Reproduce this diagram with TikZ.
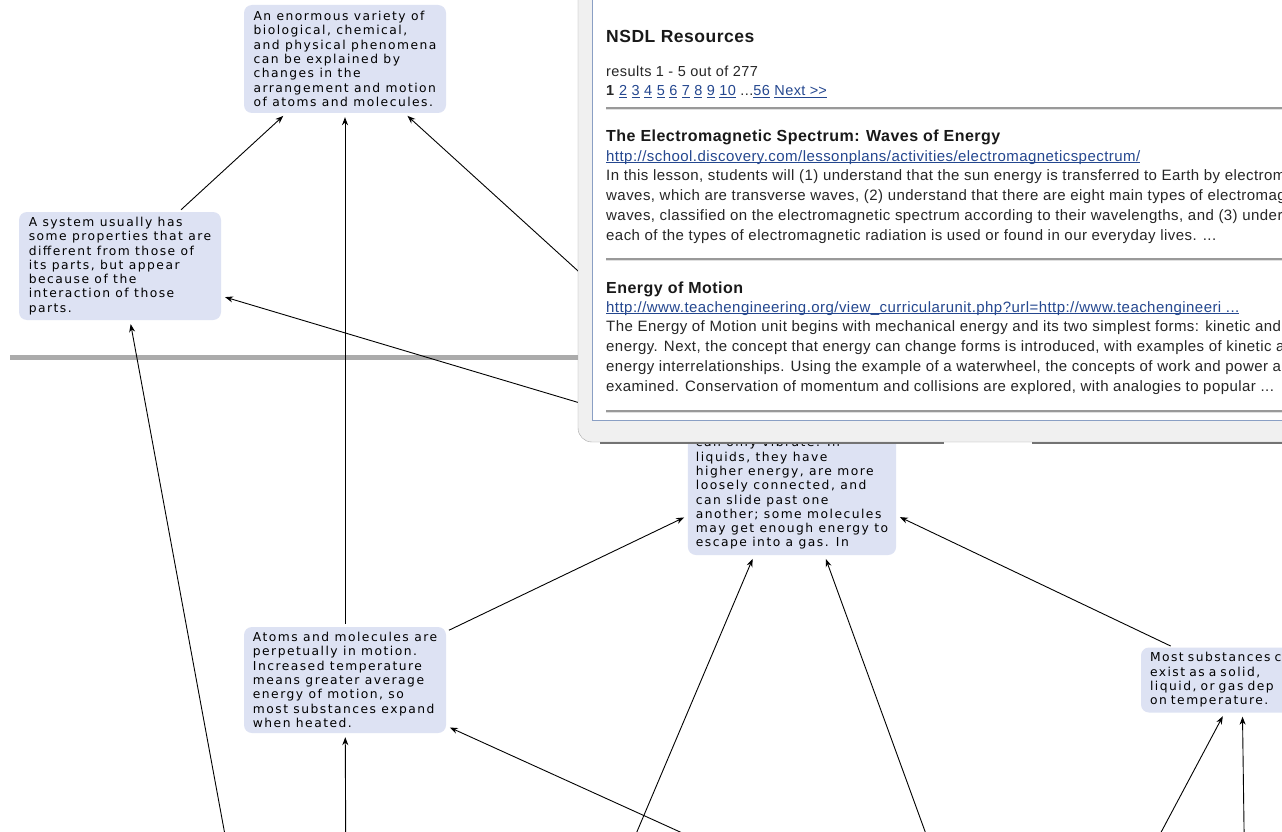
\documentclass[tikz,border=0pt]{standalone}
\usepackage{fontspec}
\setmainfont{Liberation Sans}
\newfontfamily\mapfont[LetterSpace=12]{DejaVu Sans}
\newfontfamily\webfont[LetterSpace=3]{Liberation Sans}
\usepackage{tikz}
\usetikzlibrary{arrows.meta}
\definecolor{mapFill}{HTML}{DDE2F3}
\definecolor{mapRule}{HTML}{ABABAB}
\definecolor{popFrame}{HTML}{F0F0F0}
\definecolor{popEdge}{HTML}{8A9FC4}
\definecolor{popLink}{HTML}{24478F}
\definecolor{popText}{HTML}{262626}
\newcommand{\lnk}[1]{\textcolor{popLink}{\setbox0\hbox{#1}\rlap{\rule[-2.2pt]{\wd0}{0.9pt}}\box0}}
\tikzset{
 concept/.style={fill=mapFill, rounded corners=8pt, minimum width=202pt, inner xsep=8pt, inner ysep=4pt, align=left, font=\mapfont\fontsize{12.3}{14.3}\selectfont, text=black},
 mapedge/.style={-{Stealth[length=8pt,width=6pt]}, line width=0.9pt, shorten >=4pt, shorten <=3pt},
 ptext/.style={anchor=base west, inner sep=0pt, text=popText, font=\webfont\fontsize{15}{20}\selectfont},
 ptitle/.style={ptext, text=black!90, font=\webfont\bfseries\fontsize{16}{20}\selectfont},
 divider/.style={line width=1.2pt, black!40},
}

\begin{document}
\begin{tikzpicture}[x=1pt,y=-1pt]
\useasboundingbox (0,0) rectangle (1282,832);
\clip (0,0) rectangle (1282,832);
\fill[white] (0,0) rectangle (1282,832);
\draw[mapRule, line width=5pt] (10,357) -- (600,357);

\node[concept, minimum height=108pt] (phenom) at (345,59) {An enormous variety of\\biological, chemical,\\and physical phenomena\\can be explained by\\changes in the\\arrangement and motion\\of atoms and molecules.};
\node[concept, minimum height=108pt] (system) at (120,266) {A system usually has\\some properties that are\\different from those of\\its parts, but appear\\because of the\\interaction of those\\parts.};
\node[concept, minimum height=106pt] (motion) at (345,680) {Atoms and molecules are\\perpetually in motion.\\Increased temperature\\means greater average\\energy of motion, so\\most substances expand\\when heated.};
\node[concept, minimum height=178pt] (states) at (792,466) {\mbox{}\\[50pt]can only vibrate. In\\liquids, they have\\higher energy, are more\\loosely connected, and\\can slide past one\\another; some molecules\\may get enough energy to\\escape into a gas. In};
\node[concept, minimum height=65pt, text width=184pt] (phase) at (1242,680) {Most substances c\\exist as a solid,\\liquid, or gas dep\\on temperature.};

\coordinate (offA) at (237,900);
\coordinate (offB) at (346,900);
\coordinate (offC) at (830,900);
\coordinate (offD) at (608,900);
\coordinate (offE) at (950,900);
\coordinate (offF) at (1125,900);
\coordinate (offG) at (1245,900);

\draw[mapedge] (system) -- (phenom);
\draw[mapedge] (motion) -- (phenom);
\draw[mapedge] (states) -- (phenom);
\draw[mapedge] (states) -- (system);
\draw[mapedge] (motion) -- (states);
\draw[mapedge] (phase) -- (states);
\draw[mapedge] (offA) -- (system);
\draw[mapedge] (offB) -- (motion);
\draw[mapedge] (offC) -- (motion);
\draw[mapedge] (offD) -- (states);
\draw[mapedge] (offE) -- (states);
\draw[mapedge] (offF) -- (phase);
\draw[mapedge] (offG) -- (phase);

% resource window
\draw[black!35, fill=popFrame, rounded corners=14pt] (1300,-30) -- (578,-30) -- (578,442) -- (1300,442);
\draw[popEdge, fill=white, line width=1pt] (1300,-30) -- (592,-30) -- (592,420) -- (1300,420);
\draw[black!55, line width=2pt] (600,443) -- (944,443) (1032,443) -- (1290,443);
\foreach \yy in {108,259,411} {
 \draw[divider] (606,\yy) -- (1290,\yy);
 \draw[black!12, line width=1pt] (606,\yy+1.5) -- (1290,\yy+1.5);
}

\node[ptext, text=black!90, font=\webfont\bfseries\fontsize{17.5}{20}\selectfont] (hdr) at (606,43) {NSDL Resources};
\node[ptext, font=\webfont\fontsize{14.5}{18}\selectfont] (count) at (606,77) {results 1 - 5 out of 277};
\node[ptext, font=\webfont\fontsize{14.5}{18}\selectfont] (pages) at (606,96) {\textbf{1} \lnk{2} \lnk{3} \lnk{4} \lnk{5} \lnk{6} \lnk{7} \lnk{8} \lnk{9} \lnk{10} ...\lnk{56} \lnk{Next >\kern0pt>}};

\node[ptitle] (t1) at (606,142) {The Electromagnetic Spectrum: Waves of Energy};
\node[ptext] (u1) at (606,161) {\lnk{http://school.discovery.com/lessonplans/activities/electromagneticspectrum/}};
\node[ptext] (d1a) at (606,180) {In this lesson, students will (1) understand that the sun energy is transferred to Earth by electrom};
\node[ptext] (d1b) at (606,200) {waves, which are transverse waves, (2) understand that there are eight main types of electromag};
\node[ptext] (d1c) at (606,220) {waves, classified on the electromagnetic spectrum according to their wavelengths, and (3) under};
\node[ptext] (d1d) at (606,240) {each of the types of electromagnetic radiation is used or found in our everyday lives. ...};

\node[ptitle] (t2) at (606,293) {Energy of Motion};
\node[ptext] (u2) at (606,312) {\lnk{http://www.teachengineering.org/view\_curricularunit.php?url=http://www.teachengineeri ...}};
\node[ptext] (d2a) at (606,331) {The Energy of Motion unit begins with mechanical energy and its two simplest forms: kinetic and};
\node[ptext] (d2b) at (606,351) {energy. Next, the concept that energy can change forms is introduced, with examples of kinetic ar};
\node[ptext] (d2c) at (606,371) {energy interrelationships. Using the example of a waterwheel, the concepts of work and power a};
\node[ptext] (d2d) at (606,391) {examined. Conservation of momentum and collisions are explored, with analogies to popular ...};
\end{tikzpicture}
\end{document}
